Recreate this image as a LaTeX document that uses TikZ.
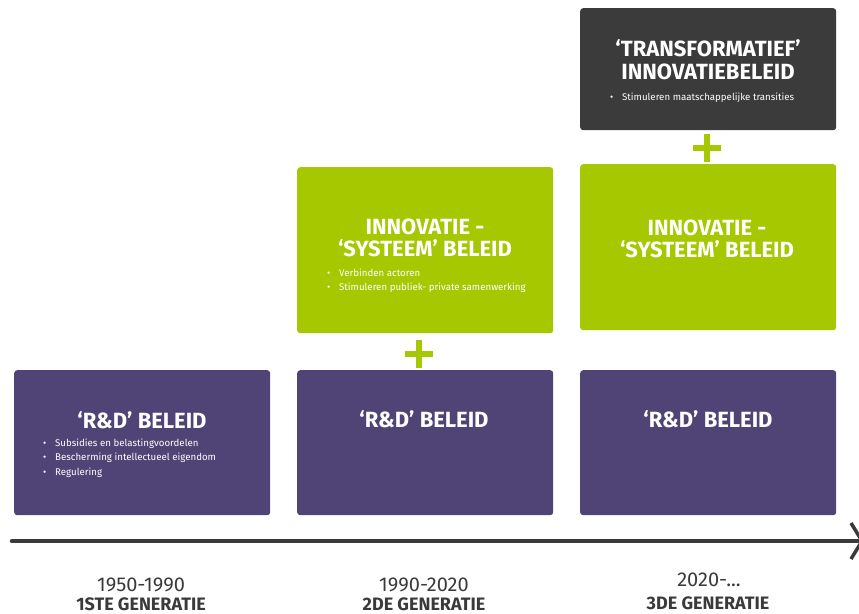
\documentclass[tikz,border=0pt]{standalone}
\usepackage{fontspec}
\setmainfont{Fira Sans}
\definecolor{rdpurple}{HTML}{4F4475}
\definecolor{innogreen}{HTML}{A5C800}
\definecolor{transdark}{HTML}{3B3B3B}
\definecolor{tlgray}{HTML}{3A3A3A}
\newcommand{\bl}{\makebox[12pt][l]{•}}
\begin{document}
\begin{tikzpicture}[x=1pt,y=-1pt,
  box/.style={rounded corners=3pt, minimum width=256pt, anchor=north west, inner sep=0pt, draw=none},
  title/.style={text=white, font=\bfseries\fontsize{22}{22.5}\selectfont, align=center, inner sep=0pt},
  bul/.style={text=white, font=\fontsize{9.7}{14.3}\selectfont, align=left, anchor=base west, inner sep=0pt},
  plus/.style={line width=5.5pt, innogreen},
  year/.style={text=tlgray, font=\fontsize{20}{22}\selectfont, inner sep=0pt},
  gen/.style={text=tlgray, font=\bfseries\fontsize{18}{20}\selectfont, inner sep=0pt},
]
\useasboundingbox (0,0) rectangle (859,613);
\clip (0,0) rectangle (859,613);

% boxes
\node[box, fill=rdpurple, minimum height=145pt] (rd1) at (14,370) {};
\node[box, fill=rdpurple, minimum height=145pt] (rd2) at (297,370) {};
\node[box, fill=rdpurple, minimum height=145pt] (rd3) at (580,370) {};
\node[box, fill=innogreen, minimum height=166pt] (in2) at (297,167) {};
\node[box, fill=innogreen, minimum height=166pt] (in3) at (580,164) {};
\node[box, fill=transdark, minimum height=122pt] (tr3) at (580,8) {};

% titles
\node[title] (rd1t) at (142,420) {‘R\&D’ BELEID};
\node[title] (rd2t) at (424,419) {‘R\&D’ BELEID};
\node[title] (rd3t) at (708,419) {‘R\&D’ BELEID};
\node[title] (in2t) at (425,238) {INNOVATIE -\\‘SYSTEEM’ BELEID};
\node[title] (in3t) at (707,239) {INNOVATIE -\\‘SYSTEEM’ BELEID};
\node[title] (tr3t) at (708,60) {‘TRANSFORMATIEF’\\INNOVATIEBELEID};

% bullets (anchor at baseline of last line)
\node[bul] (rd1b) at (43,475.1) {\bl Subsidies en belastingvoordelen\\\bl Bescherming intellectueel eigendom\\\bl Regulering};
\node[bul] (in2b) at (327,290.8) {\bl Verbinden actoren\\\bl Stimuleren publiek- private samenwerking};
\node[bul] (tr3b) at (610,100.5) {\bl Stimuleren maatschappelijke transities};

% plus signs
\coordinate (p1) at (419,354);
\coordinate (p2) at (707,148);
\draw[plus] ([xshift=-14pt]p1) -- ([xshift=14pt]p1);
\draw[plus] ([yshift=-14pt]p1) -- ([yshift=14pt]p1);
\draw[plus] ([xshift=-14pt]p2) -- ([xshift=14pt]p2);
\draw[plus] ([yshift=-14pt]p2) -- ([yshift=14pt]p2);

% timeline
\coordinate (tls) at (12,541);
\coordinate (tle) at (862,541);
\draw[line width=4.5pt, tlgray, line cap=round] (tls) -- (tle);
\draw[line width=3.5pt, tlgray] (851,523) -- (tle) -- (851,559);

% labels
\node[year] (y1) at (141,585) {1950-1990};
\node[gen] (g1) at (141,604) {1STE GENERATIE};
\node[year] (y2) at (424,585) {1990-2020};
\node[gen] (g2) at (424,604) {2DE GENERATIE};
\node[year] (y3) at (709,580) {2020-...};
\node[gen] (g3) at (708,603) {3DE GENERATIE};
\end{tikzpicture}
\end{document}
